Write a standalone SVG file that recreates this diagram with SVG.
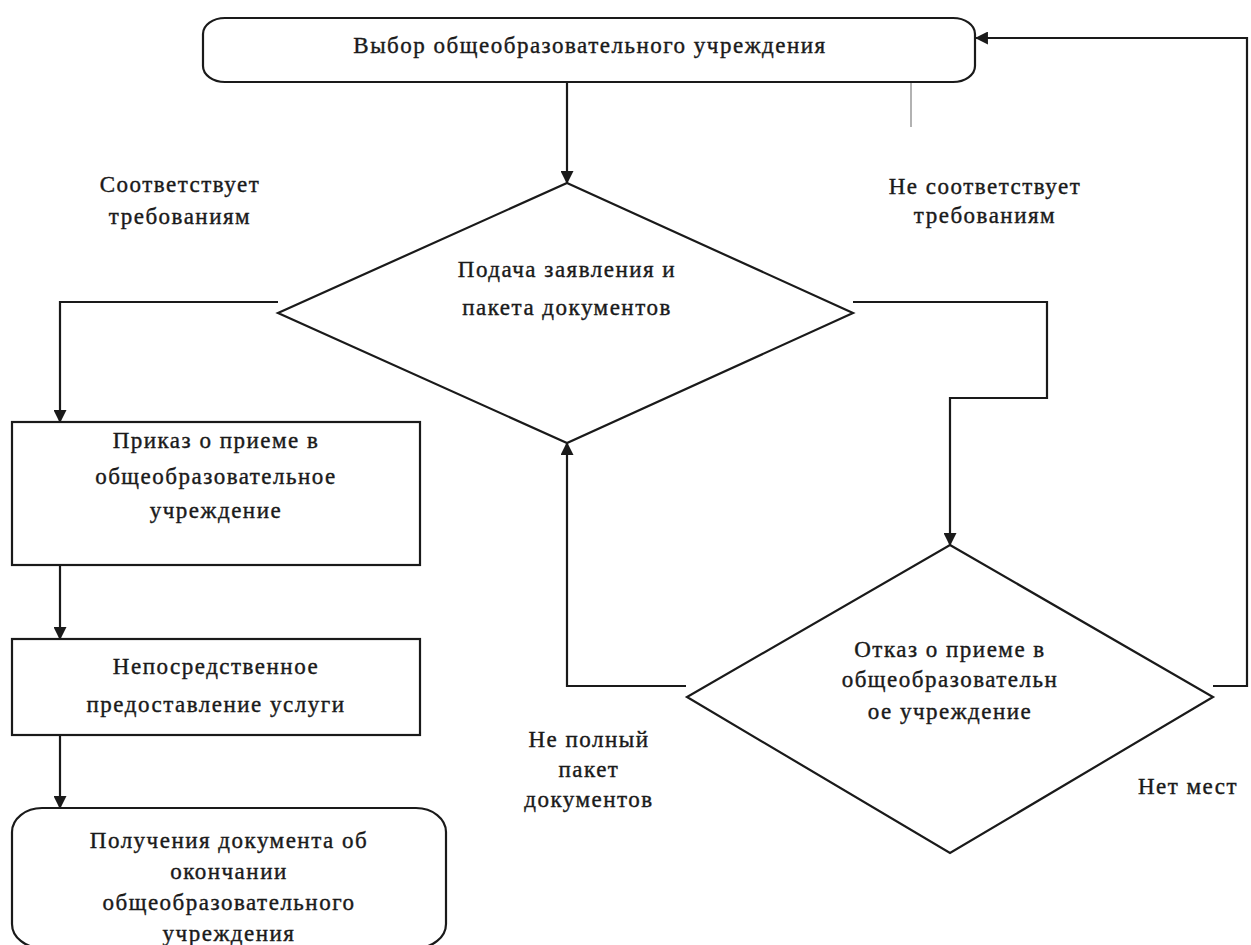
<svg xmlns="http://www.w3.org/2000/svg" width="1251" height="945" viewBox="0 0 1251 945">
<defs>
<style>
.s{fill:#fff;stroke:#1a1a1a;stroke-width:2.2}
.c{fill:none;stroke:#1a1a1a;stroke-width:2.2}
.t{font-family:"Liberation Serif","Times New Roman",serif;font-size:23px;letter-spacing:1.5px;fill:#1a1a1a;stroke:#1a1a1a;stroke-width:0.4;text-anchor:middle}
</style>
<marker id="ah" viewBox="0 0 12 12" refX="11" refY="6" markerWidth="13" markerHeight="13" markerUnits="userSpaceOnUse" orient="auto">
<path d="M0,0 L12,6 L0,12 Z" fill="#1a1a1a"/>
</marker>
</defs>
<rect width="1251" height="945" fill="#fff"/>
<g id="connectors">
<path class="c" d="M567,82 L567,183" marker-end="url(#ah)"/>
<path class="c" d="M278,302 L60,302 L60,422" marker-end="url(#ah)"/>
<path class="c" d="M853,302 L1047,302 L1047,398 L950,398 L950,545" marker-end="url(#ah)"/>
<path class="c" d="M60,565 L60,639" marker-end="url(#ah)"/>
<path class="c" d="M60,735 L60,808" marker-end="url(#ah)"/>
<path class="c" d="M686,686 L567,686 L567,443" marker-end="url(#ah)"/>
<path class="c" d="M1213,686 L1247,686 L1247,38 L976,38" marker-end="url(#ah)"/>
<path d="M911,52 L911,127" stroke="#999" stroke-width="1.5" fill="none"/>
</g>
<g id="n1">
<rect class="s" x="203" y="18" width="772" height="64" rx="22" ry="16"/>
<text class="t" x="590" y="53">Выбор общеобразовательного учреждения</text>
</g>
<g id="n2">
<polygon class="s" points="567,183 853,313 567,443 278,313"/>
<text class="t" x="567" y="277">Подача заявления и</text>
<text class="t" x="567" y="315">пакета документов</text>
</g>
<g id="n3">
<rect class="s" x="12" y="422" width="408" height="143"/>
<text class="t" x="216" y="448">Приказ о приеме в</text>
<text class="t" x="216" y="484">общеобразовательное</text>
<text class="t" x="216" y="518">учреждение</text>
</g>
<g id="n4">
<rect class="s" x="12" y="639" width="408" height="96"/>
<text class="t" x="216" y="674">Непосредственное</text>
<text class="t" x="216" y="712">предоставление услуги</text>
</g>
<g id="n5">
<rect class="s" x="12" y="808" width="434" height="140" rx="30" ry="24"/>
<text class="t" x="229" y="848">Получения документа об</text>
<text class="t" x="229" y="879">окончании</text>
<text class="t" x="229" y="910">общеобразовательного</text>
<text class="t" x="229" y="941">учреждения</text>
</g>
<g id="n6">
<polygon class="s" points="950,545 1213,697 950,853 687,697"/>
<text class="t" x="950" y="657">Отказ о приеме в</text>
<text class="t" x="950" y="687">общеобразовательн</text>
<text class="t" x="950" y="719">ое учреждение</text>
</g>
<g id="labels">
<text class="t" x="180" y="192">Соответствует</text>
<text class="t" x="180" y="224">требованиям</text>
<text class="t" x="985" y="194">Не соответствует</text>
<text class="t" x="985" y="223">требованиям</text>
<text class="t" x="589" y="747">Не полный</text>
<text class="t" x="589" y="777">пакет</text>
<text class="t" x="589" y="807">документов</text>
<text class="t" x="1188" y="794">Нет мест</text>
</g>
</svg>
